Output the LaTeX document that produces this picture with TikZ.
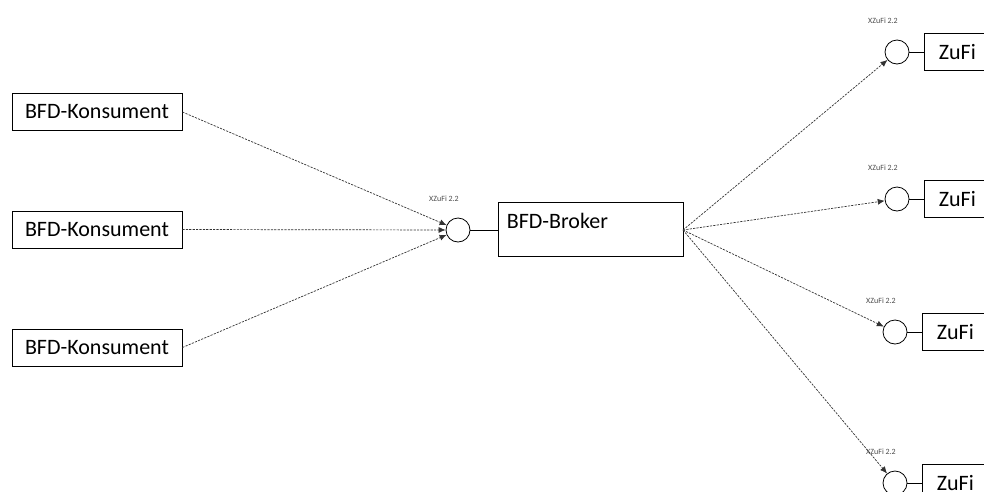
\documentclass[tikz,border=0pt]{standalone}
\usepackage{fontspec}
\setmainfont{Carlito}
\usepackage{tikz}
\usetikzlibrary{positioning,arrows.meta}
\tikzset{
  box/.style={draw,line width=0.8pt,font=\fontsize{22}{26}\selectfont,inner sep=0pt},
  kons/.style={box,minimum width=170,minimum height=37},
  zufi/.style={box,minimum width=90,minimum height=37,align=left,text width=80,anchor=west},
  iface/.style={draw,circle,line width=0.8pt,minimum size=24,inner sep=0pt,
    label={[font=\fontsize{8}{9}\selectfont,text=black!70,xshift=-14pt,yshift=16pt,inner sep=0pt]90:XZuFi 2.2}},
  flow/.style={-{Latex[length=7pt,width=6pt]},line width=0.7pt,dash pattern=on 2.2pt off 1.2pt,black!80},
  wire/.style={line width=0.8pt},
}
\begin{document}
\begin{tikzpicture}[x=1pt,y=-1pt,node distance=4pt and 13pt]
  \useasboundingbox (0,0) rectangle (984,491);
  \clip (0,0) rectangle (984,491);
  % consumers
  \node[kons] (k1) at (97,112) {BFD-Konsument};
  \node[kons] (k2) at (97,229.5) {BFD-Konsument};
  \node[kons] (k3) at (97,347.5) {BFD-Konsument};
  % broker with its interface
  \node[iface] (ib) at (458,230) {};
  \node[box,minimum width=185,minimum height=54,
    label={[anchor=west,font=\fontsize{22}{26}\selectfont,inner sep=0pt,yshift=8pt]west:{\hspace*{9pt}BFD-Broker}}]
    (br) at (590.5,229) {};
  \draw[wire] (ib)--(ib-|br.west);
  \foreach \k in {k1,k2,k3} \draw[flow] (\k.east)--(ib);
  % providers
  \coordinate (out) at (683,230);
  \foreach \i/\x/\y in {1/897/52,2/897/199,3/895/332,4/895/483}{
    \node[iface] (iz\i) at (\x,\y) {};
    \node[zufi,right=of iz\i,xshift=2pt] (z\i) {\hspace*{9pt}ZuFi};
    \draw[wire] (iz\i)--(z\i);
    \draw[flow] (out)--(iz\i);
  }
\end{tikzpicture}
\end{document}
